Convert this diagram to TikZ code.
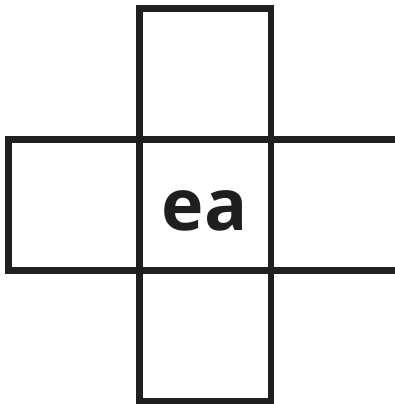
\documentclass[tikz,border=0pt]{standalone}
\usepackage{fontspec}
\setsansfont{Open Sans}
\usepackage{tikz}
\usetikzlibrary{positioning}
\tikzset{
  cell/.style={draw=black!88, line width=6.5bp, outer sep=0pt, inner sep=0pt,
    minimum width=131bp, minimum height=131bp},
  letters/.style={font=\sffamily\bfseries\fontsize{72}{72}\selectfont, text=black!88,
    inner sep=0pt}
}
\begin{document}
\begin{tikzpicture}[x=1bp, y=-1bp, node distance=0pt]
  \useasboundingbox (0,0) rectangle (395,404);
  \node[cell] (mid) at (205.25,204.75) {};
  \node[cell, above=of mid] (top) {};
  \node[cell, below=of mid] (bottom) {};
  \node[cell, left=of mid] (west) {};
  \node[cell, right=of mid] (east) {};
  \node[letters] (word) at (204.5,211) {ea};
\end{tikzpicture}
\end{document}
